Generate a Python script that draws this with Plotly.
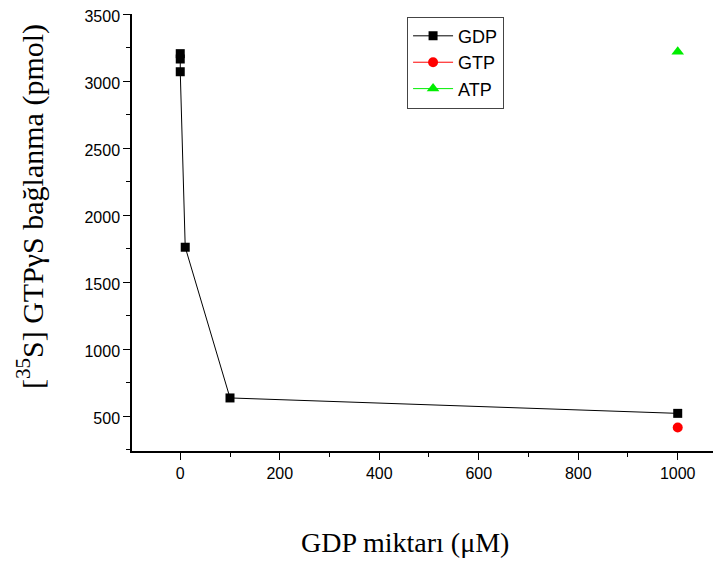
import plotly.graph_objects as go

# GDP series (connected), GTP and ATP single points
gdp_x = [0, 0, 0, 10, 100, 1000]
gdp_y = [3205, 3165, 3070, 1760, 635, 520]
gtp_x = [1000]
gtp_y = [415]
atp_x = [1000]
atp_y = [3220]

y_ticks = [500, 1000, 1500, 2000, 2500, 3000, 3500]
x_ticks = [0, 200, 400, 600, 800, 1000]

fig = go.Figure()
fig.add_trace(go.Scatter(x=gdp_x, y=gdp_y, mode='lines+markers', name='GDP',
                         line=dict(color='black', width=1),
                         marker=dict(symbol='square', size=9, color='black')))
fig.add_trace(go.Scatter(x=gtp_x, y=gtp_y, mode='lines+markers', name='GTP',
                         line=dict(color='red', width=1),
                         marker=dict(symbol='circle', size=10, color='red')))
fig.add_trace(go.Scatter(x=atp_x, y=atp_y, mode='lines+markers', name='ATP',
                         line=dict(color='#00ee00', width=1),
                         marker=dict(symbol='triangle-up', size=11, color='#00ee00')))

axis_font = dict(family='Liberation Sans, Arial', size=16, color='black')

# page has an 8px body margin, so the figure is offset by (8, 8)
fig.update_layout(
    width=721, height=565,
    margin=dict(l=124, r=8, t=6, b=122, autoexpand=False),
    plot_bgcolor='white', paper_bgcolor='white',
    showlegend=True,
    legend=dict(x=0.467, y=0.994, xanchor='left', yanchor='top',
                bordercolor='#444', borderwidth=1,
                font=dict(family='Liberation Sans, Arial', size=18, color='black'),
                tracegroupgap=0, itemwidth=40),
    xaxis=dict(range=[-97, 1087], tickvals=x_ticks, ticks='outside', ticklen=7,
               tickwidth=1, tickcolor='black', showgrid=False, zeroline=False,
               showline=True, linecolor='black', linewidth=1.5, tickfont=axis_font,
               automargin=False,
               minor=dict(tickvals=[-100, 100, 300, 500, 700, 900], ticks='outside',
                          ticklen=4, tickcolor='black')),
    yaxis=dict(range=[239, 3501], tickvals=y_ticks, ticks='outside', ticklen=7,
               tickwidth=1, tickcolor='black', showgrid=False, zeroline=False,
               showline=True, linecolor='black', linewidth=1.5, tickfont=axis_font,
               ticklabeloverflow='allow', automargin=False, ticklabelshift=2,
               minor=dict(tickvals=[250, 750, 1250, 1750, 2250, 2750, 3250],
                          ticks='outside', ticklen=4, tickcolor='black')),
)

fig.add_annotation(text='GDP miktarı (μM)', xref='paper', yref='paper',
                   x=(405 - 132) / 589, y=-(542 - 451) / 437, showarrow=False,
                   font=dict(family='Liberation Serif, Times New Roman', size=28, color='black'),
                   xanchor='center', yanchor='middle')
fig.add_annotation(text='[<sup>35</sup>S] GTPγS bağlanma (pmol)', xref='paper', yref='paper',
                   x=-(132 - 30) / 589, y=(451 - 207) / 437, showarrow=False,
                   textangle=-90,
                   font=dict(family='Liberation Serif, Times New Roman', size=30, color='black'),
                   xanchor='center', yanchor='middle')

fig.write_html("out.html")
